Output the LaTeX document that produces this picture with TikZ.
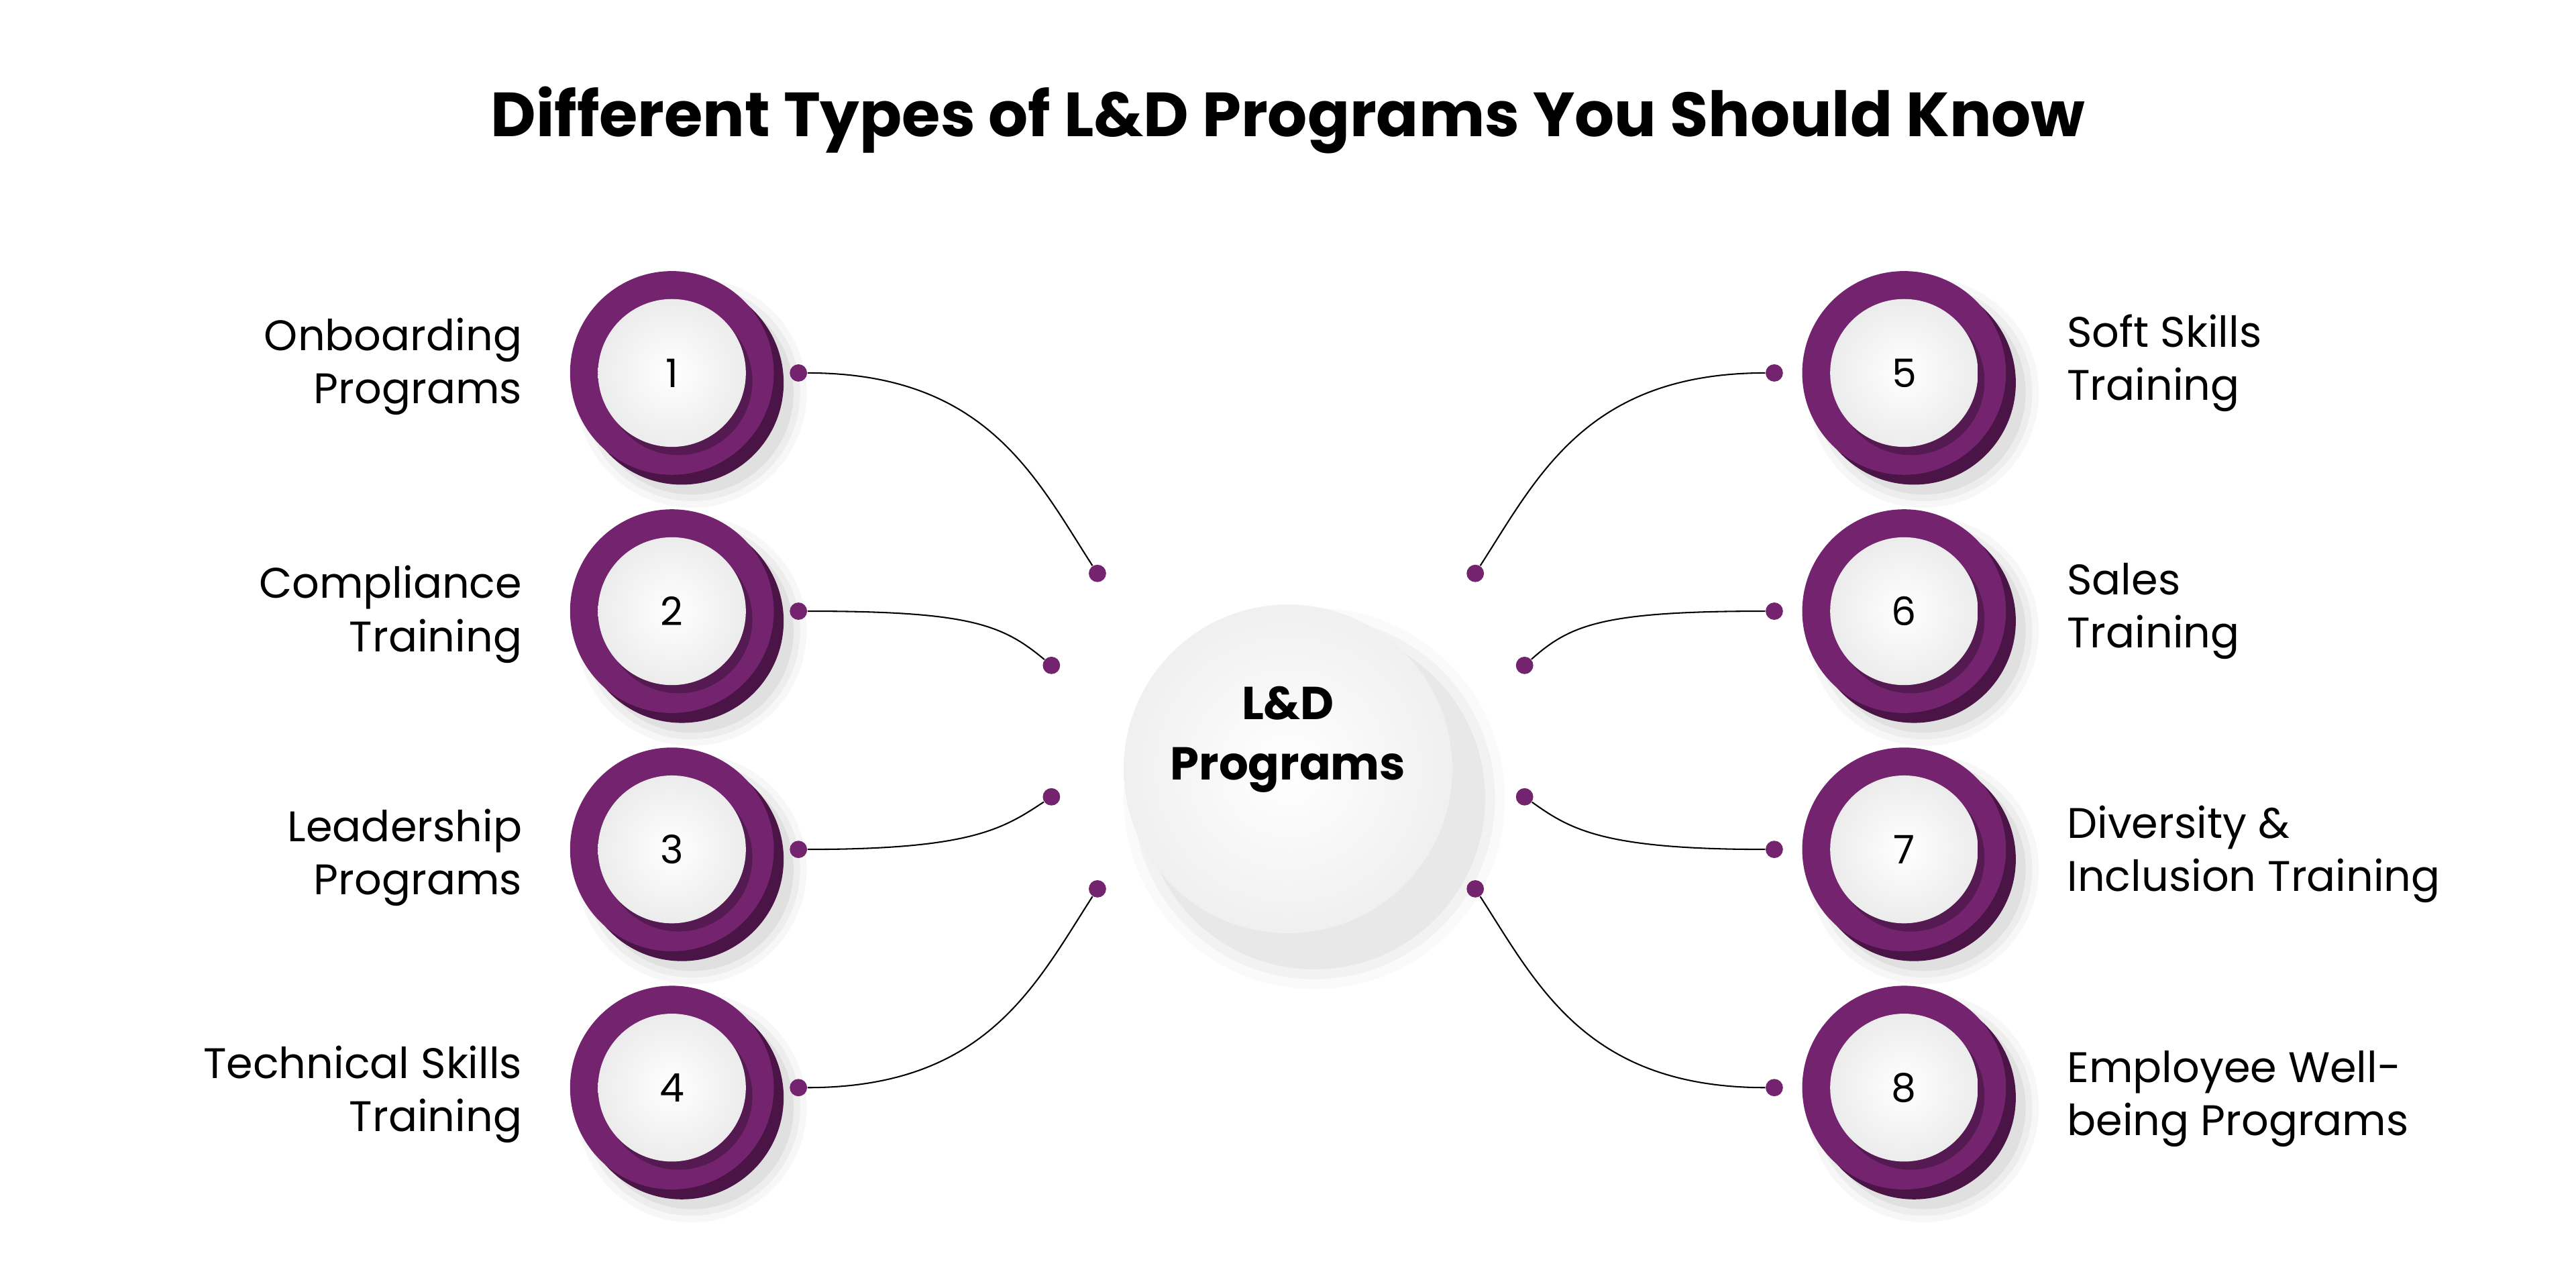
\documentclass[tikz,border=0pt]{standalone}
\usepackage{fontspec}
\setmainfont{Poppins}
\begin{document}
\begin{tikzpicture}[x=0.025cm,y=-0.025cm,
  lbl/.style={font=\fontsize{18.5}{23}\selectfont, align=left, inner sep=0},
  num/.style={font=\fontsize{17}{20}\selectfont},
  dot/.style={circle, fill=purp, inner sep=0, minimum size=7.5pt},
  link/.style={black, line width=0.6pt}]
\definecolor{purp}{HTML}{74246F}
\definecolor{purpd}{HTML}{4A1446}
\useasboundingbox[fill=white] (0,0) rectangle (1568,780.3);
\node[font=\bfseries\fontsize{27}{32}\selectfont] (title) at (784,73) {Different Types of L\&D Programs You Should Know};
% center
\foreach \r/\o in {116/0.02,110/0.03,104/0.04}{\fill[black,opacity=\o] (800,486) circle (\r);}
\shade[inner color=white, outer color=gray!12] (784,468) circle (100);
\node[font=\bfseries\fontsize{20}{26}\selectfont, align=center] (c) at (784,450) {L\&D\\Programs};
% items
\foreach \i/\x/\y in {1/409/227,2/409/372,3/409/517,4/409/662,5/1159/227,6/1159/372,7/1159/517,8/1159/662}{
  \foreach \r/\o in {70/0.03,66/0.04,62/0.05}{\fill[black,opacity=\o] (\x+12,\y+12) circle (\r);}
  \fill[purpd] (\x+6,\y+6) circle (62);
  \fill[purp] (\x,\y) circle (62);
  \fill[black,opacity=0.25] (\x+4,\y+5) circle (45);
  \shade[inner color=white, outer color=gray!15] (\x,\y) circle (45);
  \node[num] (n\i) at (\x,\y) {\i};
}
\node[lbl, anchor=east, align=right] (l1) at (318,223) {Onboarding\\Programs};
\node[lbl, anchor=east, align=right] (l2) at (318,374) {Compliance\\Training};
\node[lbl, anchor=east, align=right] (l3) at (318,522) {Leadership\\Programs};
\node[lbl, anchor=east, align=right] (l4) at (318,666) {Technical Skills\\Training};
\node[lbl, anchor=west] (l5) at (1258,221) {Soft Skills\\Training};
\node[lbl, anchor=west] (l6) at (1258,372) {Sales\\Training};
\node[lbl, anchor=west] (l7) at (1258,520) {Diversity \&\\Inclusion Training};
\node[lbl, anchor=west] (l8) at (1258,669) {Employee Well-\\being Programs};
% dots
\node[dot] (a1) at (486,227) {}; \node[dot] (b1) at (668,349) {};
\node[dot] (a2) at (486,372) {}; \node[dot] (b2) at (640,405) {};
\node[dot] (a3) at (486,517) {}; \node[dot] (b3) at (640,485) {};
\node[dot] (a4) at (486,662) {}; \node[dot] (b4) at (668,541) {};
\node[dot] (a5) at (1080,227) {}; \node[dot] (b5) at (898,349) {};
\node[dot] (a6) at (1080,372) {}; \node[dot] (b6) at (928,405) {};
\node[dot] (a7) at (1080,517) {}; \node[dot] (b7) at (928,485) {};
\node[dot] (a8) at (1080,662) {}; \node[dot] (b8) at (898,541) {};
\draw[link] (a1) .. controls (600,227) and (630,290) .. (b1);
\draw[link] (a2) .. controls (590,372) and (610,380) .. (b2);
\draw[link] (a3) .. controls (590,517) and (610,505) .. (b3);
\draw[link] (a4) .. controls (600,662) and (630,600) .. (b4);
\draw[link] (a5) .. controls (966,227) and (936,290) .. (b5);
\draw[link] (a6) .. controls (976,372) and (956,380) .. (b6);
\draw[link] (a7) .. controls (976,517) and (956,505) .. (b7);
\draw[link] (a8) .. controls (966,662) and (936,600) .. (b8);
\end{tikzpicture}
\end{document}
